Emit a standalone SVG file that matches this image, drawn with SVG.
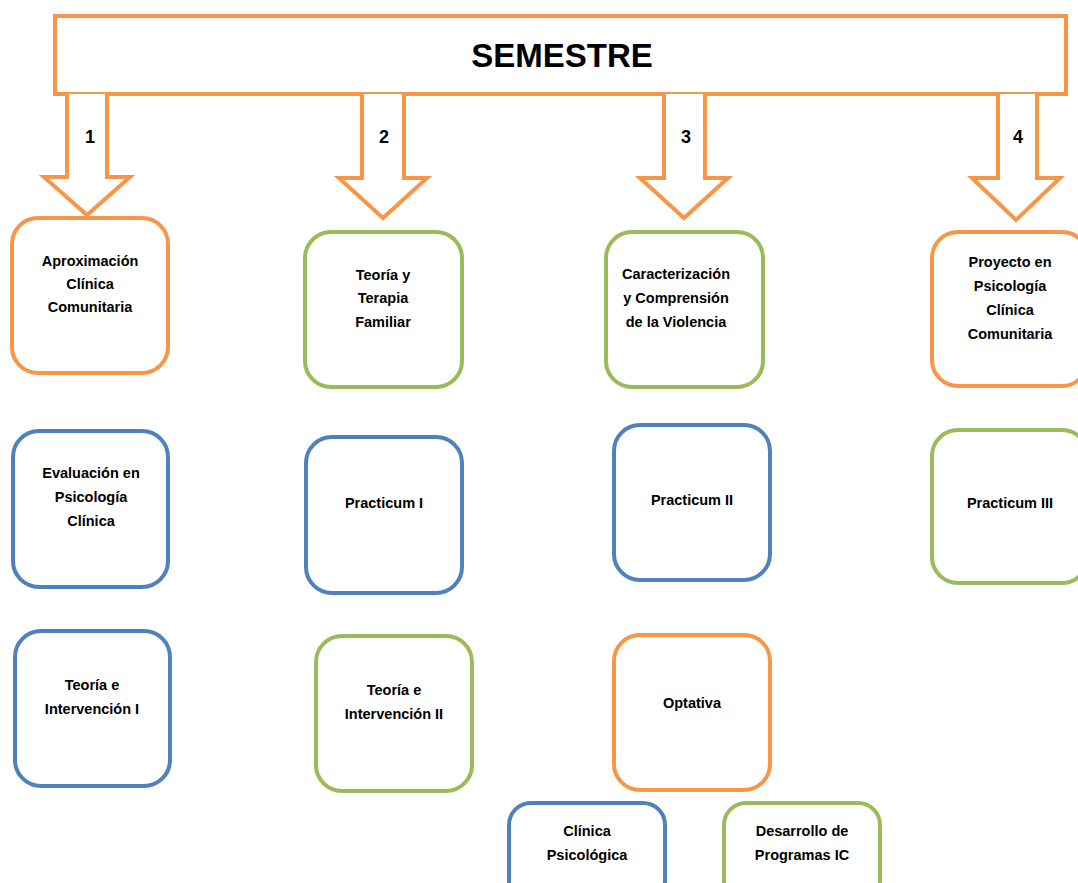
<svg xmlns="http://www.w3.org/2000/svg" width="1078" height="883" viewBox="0 0 1078 883">
<style>
.o{fill:#fff;stroke:#F79646;stroke-width:4}
.g{fill:#fff;stroke:#9BBB59;stroke-width:4}
.b{fill:#fff;stroke:#4F81BD;stroke-width:4}
.ar{fill:#fff;stroke:#F79646;stroke-width:4;stroke-linejoin:miter}
text{font-family:"Liberation Sans",Arial,sans-serif;font-weight:bold;fill:#000;text-anchor:middle}
.t{font-size:14.5px}
.n{font-size:18px}
</style>
<rect width="1078" height="883" fill="#fff"/>
<g id="semestre">
<rect class="o" x="55" y="16" width="1011" height="78"/>
<text x="562" y="67" style="font-size:33px">SEMESTRE</text>
</g>
<g id="connectors">
<path class="ar" d="M67,94 V177 H44 L87,215 L130,177 H107 V94"/>
<path class="ar" d="M362,94 V178 H339 L383,218 L427,178 H404 V94"/>
<path class="ar" d="M664,94 V178 H640 L684,218 L728,178 H705 V94"/>
<path class="ar" d="M998,94 V178 H972 L1016,220 L1060,178 H1037 V94"/>
<text class="n" x="90" y="143">1</text>
<text class="n" x="384" y="143">2</text>
<text class="n" x="686" y="143">3</text>
<text class="n" x="1018" y="143">4</text>
</g>
<g id="aproximacion">
<rect class="o" x="12" y="218" width="156" height="155" rx="26"/>
<text class="t" x="90" y="266">Aproximación</text>
<text class="t" x="90" y="289">Clínica</text>
<text class="t" x="90" y="312">Comunitaria</text>
</g>
<g id="terapia-familiar">
<rect class="g" x="305" y="232" width="157" height="155" rx="26"/>
<text class="t" x="383" y="280">Teoría y</text>
<text class="t" x="383" y="303">Terapia</text>
<text class="t" x="383" y="327">Familiar</text>
</g>
<g id="violencia">
<rect class="g" x="606" y="232" width="157" height="155" rx="26"/>
<text class="t" x="676" y="279">Caracterización</text>
<text class="t" x="676" y="303">y Comprensión</text>
<text class="t" x="676" y="327">de la Violencia</text>
</g>
<g id="proyecto">
<rect class="o" x="932" y="232" width="156" height="154" rx="26"/>
<text class="t" x="1010" y="267">Proyecto en</text>
<text class="t" x="1010" y="291">Psicología</text>
<text class="t" x="1010" y="315">Clínica</text>
<text class="t" x="1010" y="339">Comunitaria</text>
</g>
<g id="evaluacion">
<rect class="b" x="13" y="431" width="155" height="156" rx="26"/>
<text class="t" x="91" y="478">Evaluación en</text>
<text class="t" x="91" y="502">Psicología</text>
<text class="t" x="91" y="526">Clínica</text>
</g>
<g id="practicum1">
<rect class="b" x="306" y="437" width="156" height="156" rx="26"/>
<text class="t" x="384" y="508">Practicum I</text>
</g>
<g id="practicum2">
<rect class="b" x="614" y="425" width="156" height="155" rx="26"/>
<text class="t" x="692" y="505">Practicum II</text>
</g>
<g id="practicum3">
<rect class="g" x="932" y="430" width="156" height="153" rx="26"/>
<text class="t" x="1010" y="508">Practicum III</text>
</g>
<g id="intervencion1">
<rect class="b" x="15" y="631" width="155" height="155" rx="26"/>
<text class="t" x="92" y="690">Teoría e</text>
<text class="t" x="92" y="714">Intervención I</text>
</g>
<g id="intervencion2">
<rect class="g" x="316" y="636" width="156" height="155" rx="26"/>
<text class="t" x="394" y="695">Teoría e</text>
<text class="t" x="394" y="719">Intervención II</text>
</g>
<g id="optativa">
<rect class="o" x="614" y="635" width="156" height="155" rx="26"/>
<text class="t" x="692" y="708">Optativa</text>
</g>
<g id="clinica-psicologica">
<rect class="b" x="509" y="803" width="156" height="100" rx="22"/>
<text class="t" x="587" y="836">Clínica</text>
<text class="t" x="587" y="860">Psicológica</text>
</g>
<g id="desarrollo">
<rect class="g" x="724" y="803" width="156" height="100" rx="22"/>
<text class="t" x="802" y="836">Desarrollo de</text>
<text class="t" x="802" y="860">Programas IC</text>
</g>
</svg>
